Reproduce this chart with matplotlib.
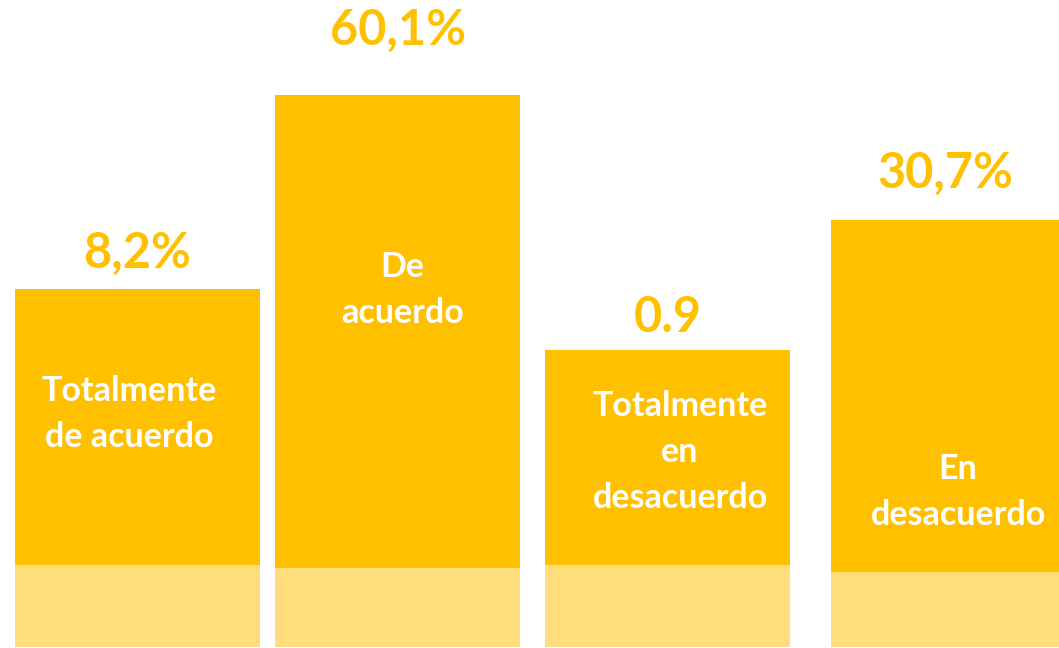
import matplotlib
matplotlib.use("Agg")
from matplotlib import pyplot as plt

# data (bar heights in picture units, bars are not to scale)
categories = ["Totalmente\nde acuerdo", "De\nacuerdo", "Totalmente\nen\ndesacuerdo", "En\ndesacuerdo"]
value_labels = ["8,2%", "60,1%", "0.9", "30,7%"]
bar_heights = [358, 552, 297, 427]
base_heights = [82, 79, 82, 75]

# layout (picture pixel units)
bar_lefts = [15, 275, 545, 831]
bar_widths = [245, 245, 245, 228]
value_baselines = [268, 45, 332, 188]
name_centers = [(129, 414), (402, 290), (680, 452), (958, 492)]

dark = "#FFC000"
light = "#FFDC7C"
top = 647

fig = plt.figure(figsize=(10.59, 6.48), dpi=100)
ax = fig.add_axes([0, 0, 1, 1])
ax.set_xlim(0, 1059)
ax.set_ylim(-1, 647)
ax.axis("off")

ax.bar(bar_lefts, bar_heights, width=bar_widths, align="edge", color=dark)
ax.bar(bar_lefts, base_heights, width=bar_widths, align="edge", color=light)

for left, width, label, base in zip(bar_lefts, bar_widths, value_labels, value_baselines):
    ax.text(left + width / 2, top - base, label, ha="center", va="baseline",
            fontsize=35, fontweight="bold", color=dark, family="Lato")

for (cx, cy), name in zip(name_centers, categories):
    ax.text(cx, top - cy, name, ha="center", va="center", multialignment="center",
            fontsize=24.5, fontweight="bold", color="white", family="Lato", linespacing=1.55)

plt.savefig("out.png", dpi=100, facecolor="white")
